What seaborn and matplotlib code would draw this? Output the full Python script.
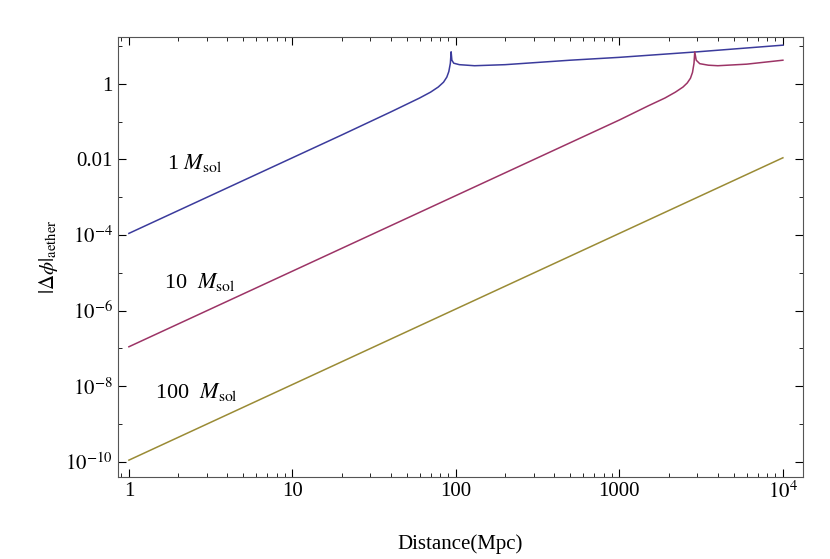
import matplotlib
matplotlib.use("Agg")
import matplotlib.pyplot as plt
import seaborn as sns
import pandas as pd
from matplotlib.ticker import FixedLocator, LogLocator, NullFormatter

plt.rcParams["font.family"] = "Liberation Serif"
plt.rcParams["mathtext.fontset"] = "stix"

d1 = [1, 10, 20, 40, 60, 70, 78, 84, 88, 90.5, 92.5, 93.5, 94.5, 97, 105, 130, 200, 500, 1000, 3000, 10000]
p1 = [1.1e-4, 1.1e-2, 0.044, 0.18, 0.42, 0.6, 0.82, 1.1, 1.5, 2.1, 3.5, 7, 4.2, 3.5, 3.2, 3.0, 3.2, 4.2, 5, 7, 10.5]
d10 = [1, 100, 1000, 1500, 1900, 2200, 2450, 2600, 2720, 2800, 2860, 2890, 2950, 3100, 3500, 4000, 6000, 10000]
p10 = [1.1e-7, 1.1e-3, 0.11, 0.26, 0.42, 0.6, 0.82, 1.05, 1.4, 2.0, 3.5, 7, 4.2, 3.4, 3.1, 3.0, 3.3, 4.2]
d100 = [1, 10000]
p100 = [1.1e-10, 1.1e-2]

xticks = [1, 10, 100, 1000, 10000]
xlabels = ["1", "10", "100", "1000", r"$10^{4}$"]
yticks = [1e-10, 1e-8, 1e-6, 1e-4, 1e-2, 1]
ylabels = [r"$10^{-10}$", r"$10^{-8}$", r"$10^{-6}$", r"$10^{-4}$", "0.01", "1"]

fig = plt.figure(figsize=(8.3, 5.59), dpi=100)
ax = fig.add_axes([0.142, 0.147, 0.825, 0.787])
for d, p, c in [(d1, p1, "#3b3b9c"), (d10, p10, "#9c3466"), (d100, p100, "#9a8b35")]:
    sns.lineplot(data=pd.DataFrame({"d": d, "p": p}), x="d", y="p", ax=ax, color=c, lw=1.1, sort=False, estimator=None)
ax.set_xscale("log"); ax.set_yscale("log")
ax.set_xlim(0.856, 1.32e4); ax.set_ylim(10**-10.4, 10**1.24)
ax.xaxis.set_major_locator(FixedLocator(xticks)); ax.set_xticklabels(xlabels)
ax.yaxis.set_major_locator(FixedLocator(yticks)); ax.set_yticklabels(ylabels)
ax.xaxis.set_minor_locator(LogLocator(subs=range(2, 10), numticks=20))
ax.yaxis.set_minor_locator(LogLocator(base=10, subs=[1.0], numticks=30))
ax.xaxis.set_minor_formatter(NullFormatter()); ax.yaxis.set_minor_formatter(NullFormatter())
ax.tick_params(which="both", direction="in", top=True, right=True, labelsize=15)
ax.tick_params(which="major", length=6); ax.tick_params(which="minor", length=3)
for s in ax.spines.values():
    s.set_color("#555555")
ax.set_xlabel("Distance(Mpc)", fontsize=15, labelpad=22)
ax.set_ylabel(r"$|\Delta\phi|_{\rm aether}$", fontsize=15)
ax.text(1.7, 0.008, r"1 $M_{\rm sol}$", fontsize=16, va="center")
ax.text(1.65, 5.7e-6, r"10  $M_{\rm sol}$", fontsize=16, va="center")
ax.text(1.45, 7e-9, r"100  $M_{\rm sol}$", fontsize=16, va="center")
fig.savefig("out.png", dpi=100)
